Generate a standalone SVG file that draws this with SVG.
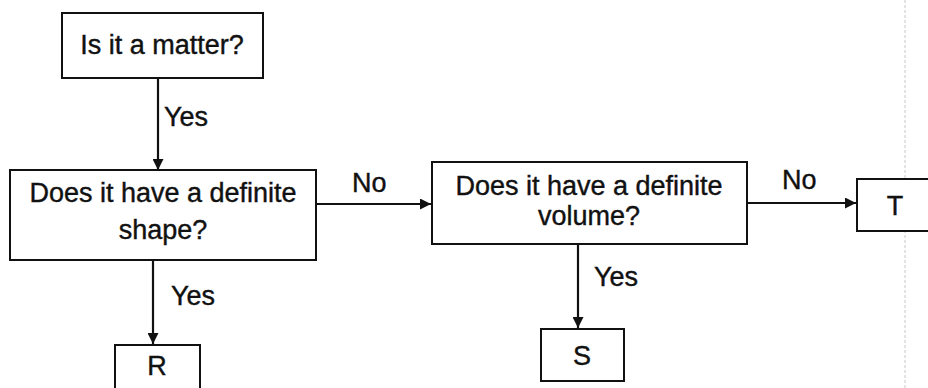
<svg xmlns="http://www.w3.org/2000/svg" width="928" height="388" viewBox="0 0 928 388">
<defs>
<style>
.box{fill:#fff;stroke:#111;stroke-width:2}
.t{font-family:"Liberation Sans",Arial,sans-serif;font-size:27px;fill:#111;stroke:#111;stroke-width:0.4;text-anchor:middle}
.l{font-family:"Liberation Sans",Arial,sans-serif;font-size:27px;fill:#111;stroke:#111;stroke-width:0.4}
.c{stroke:#111;stroke-width:2.2;fill:none;marker-end:url(#ah)}
</style>
<marker id="ah" viewBox="0 0 10 10" refX="10" refY="5" markerWidth="5.5" markerHeight="5" orient="auto" markerUnits="strokeWidth">
<path d="M0,0 L10,5 L0,10 z" fill="#111"/>
</marker>
</defs>
<rect width="928" height="388" fill="#fff"/>
<line x1="905" y1="0" x2="905" y2="388" stroke="#c8c8c8" stroke-width="1" stroke-dasharray="3,2"/>
<g id="connectors">
<line class="c" x1="158" y1="78" x2="158" y2="170"/>
<line class="c" x1="316" y1="204" x2="431" y2="204"/>
<line class="c" x1="747" y1="203" x2="856" y2="203"/>
<line class="c" x1="153" y1="260" x2="153" y2="344"/>
<line class="c" x1="578" y1="244" x2="578" y2="328"/>
<text class="l" x="164" y="126">Yes</text>
<text class="l" x="171" y="305">Yes</text>
<text class="l" x="594" y="286">Yes</text>
<text class="l" x="352" y="192">No</text>
<text class="l" x="782" y="189">No</text>
</g>
<g id="n1">
<rect class="box" x="62" y="13" width="201" height="65"/>
<text class="t" x="162" y="54">Is it a matter?</text>
</g>
<g id="n2">
<rect class="box" x="10" y="170" width="306" height="90"/>
<text class="t" x="163" y="202">Does it have a definite</text>
<text class="t" x="163" y="239">shape?</text>
</g>
<g id="n3">
<rect class="box" x="432" y="162" width="315" height="82"/>
<text class="t" x="589" y="195">Does it have a definite</text>
<text class="t" x="589" y="225">volume?</text>
</g>
<g id="nT">
<rect class="box" x="857" y="179" width="80" height="52"/>
<text class="t" x="895" y="215">T</text>
</g>
<g id="nR">
<rect class="box" x="115" y="345" width="85" height="50"/>
<text class="t" x="157" y="375">R</text>
</g>
<g id="nS">
<rect class="box" x="541" y="329" width="83" height="52"/>
<text class="t" x="582" y="365">S</text>
</g>
</svg>
